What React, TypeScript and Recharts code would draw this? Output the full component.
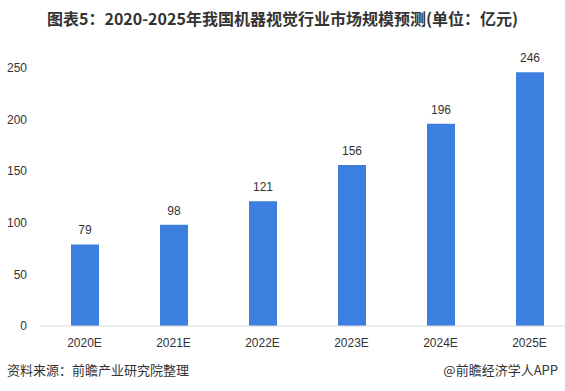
import React from 'react';
import { BarChart, Bar, XAxis, YAxis, LabelList } from 'recharts';

const categories = ['2020E', '2021E', '2022E', '2023E', '2024E', '2025E'];
const values = [79, 98, 121, 156, 196, 246];
const yTicks = [0, 50, 100, 150, 200, 250];

const title = '图表5：2020-2025年我国机器视觉行业市场规模预测(单位：亿元)';
const source = '资料来源：前瞻产业研究院整理';
const brand = '@前瞻经济学人APP';

const data = categories.map((c, i) => ({ name: c, value: values[i] }));

const tickFont = { fontFamily: 'Liberation Sans, Arial, sans-serif', fontSize: 12, fill: '#333' };

export default function App() {
  return (
    <div style={{ position: 'absolute', left: 0, top: 0, width: 565, height: 391, overflow: 'hidden', background: '#fff' }}>
      <div
        style={{
          position: 'absolute',
          left: 0,
          top: 8,
          width: 565,
          textAlign: 'center',
          fontFamily: '"Noto Sans CJK SC", sans-serif',
          fontWeight: 'bold',
          fontSize: 16,
          color: '#333',
          lineHeight: '20px',
        }}
      >
        {title}
      </div>
      <div style={{ position: 'absolute', left: 0, top: 0 }}>
        <BarChart
          width={600}
          height={391}
          data={data}
          margin={{ top: 68, right: 26, left: 0, bottom: 35 }}
        >
          <XAxis
            dataKey="name"
            axisLine={{ stroke: '#d9d9d9' }}
            tickLine={false}
            tick={tickFont}
            tickMargin={6}
            height={30}
          />
          <YAxis
            domain={[0, 250]}
            ticks={yTicks}
            axisLine={false}
            tickLine={false}
            tick={tickFont}
            tickMargin={7}
            width={40}
          />
          <Bar dataKey="value" fill="#3d7fdf" barSize={28} isAnimationActive={false}>
            <LabelList dataKey="value" position="top" offset={10} style={{ ...tickFont }} />
          </Bar>
        </BarChart>
      </div>
      <div
        style={{
          position: 'absolute',
          left: 7,
          top: 362,
          fontFamily: '"Noto Sans CJK SC", sans-serif',
          fontSize: 13,
          color: '#333',
          lineHeight: '16px',
        }}
      >
        {source}
      </div>
      <div
        style={{
          position: 'absolute',
          right: 7,
          top: 362,
          fontFamily: '"Noto Sans CJK SC", sans-serif',
          fontSize: 13,
          color: '#333',
          lineHeight: '16px',
        }}
      >
        {brand}
      </div>
    </div>
  );
}
